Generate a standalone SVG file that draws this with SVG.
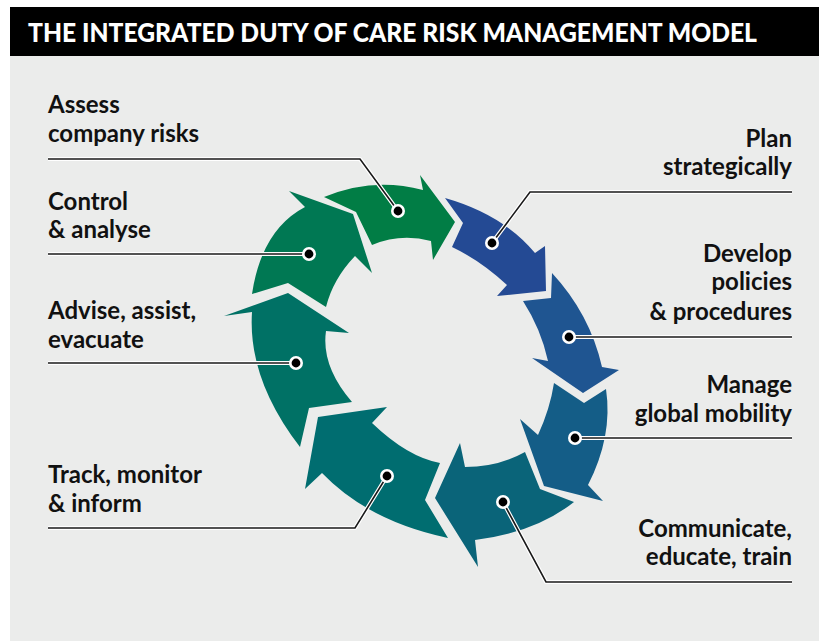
<svg xmlns="http://www.w3.org/2000/svg" width="819" height="641" viewBox="0 0 819 641">
<style>
.lbl{font-family:Lato,"Noto Sans","Liberation Sans",sans-serif;font-weight:700;font-size:24px;fill:#111}
.r{text-anchor:end}
.halo{fill:none;stroke:#fff;stroke-width:4;stroke-linejoin:round}
.ld{fill:none;stroke:#1a1a1a;stroke-width:1.6;stroke-linejoin:miter}
.dot{fill:#000;stroke:#fff;stroke-width:2.6}
</style>
<rect x="0" y="0" width="819" height="641" fill="#fff"/>
<rect x="10" y="7" width="809" height="634" fill="#ebeceb"/>
<rect x="10" y="7" width="809" height="49" fill="#000"/>
<text x="28" y="42" textLength="729" lengthAdjust="spacingAndGlyphs" style="font-family:Lato,'Liberation Sans',sans-serif;font-weight:900;font-size:26px;fill:#fff">THE INTEGRATED DUTY OF CARE RISK MANAGEMENT MODEL</text>

<g id="arrow-assess"><path fill="#017d45" d="M324,197 L356,212 L372,245 Q400.5,233 431,241 L433,260 L455,222 L420,175 L423,190 Q373,176.5 324,197 Z"/></g>
<g id="arrow-plan"><path fill="#244a94" d="M445,198 L463,223 L452,247 Q480.5,260.5 507,285 L497,296 L546,291 L545,246 L535,253 Q503,214.5 445,198 Z"/></g>
<g id="arrow-develop"><path fill="#1f5591" d="M552,273 L551,298 L523,301 Q541,329 548,361 L532,358 L583,393 L619,370 L602,367 Q590,314 552,273 Z"/></g>
<g id="arrow-manage"><path fill="#145d87" d="M606,389 L584,403 L554,383 Q550,409 538,435 L520,419 L544,486 L603,501 L588,485 Q613,436 606,389 Z"/></g>
<g id="arrow-communicate"><path fill="#0a6479" d="M574,502 L540,489 L525,452 Q498,467 465,467 L460,443 L435,498 L478,567 L475,540 Q535.5,532.5 574,502 Z"/></g>
<g id="arrow-track"><path fill="#006d70" d="M448,538 L425,500 L440,463 Q407.5,457 372,423 L387,407 L318,417 L305,489 L322,473 Q368,521 448,538 Z"/></g>
<g id="arrow-advise"><path fill="#007165" d="M300,447 L309,408 L352,402 Q321,366 326,331 L349,333 L288,293 L224,316 L252,312 Q247.6,379 300,447 Z"/></g>
<g id="arrow-control"><path fill="#007853" d="M252,294 L288,283 L326,307 Q333,279 355,256 L372,273 L353,214 L289,191 L305,207 Q261.7,229.7 252,294 Z"/></g>

<g id="connectors">
<path class="halo" d="M48,159 H360 L398,211"/><path class="ld" d="M48,159 H360 L398,211"/>
<path class="halo" d="M48,254 H309"/><path class="ld" d="M48,254 H309"/>
<path class="halo" d="M48,363 H296"/><path class="ld" d="M48,363 H296"/>
<path class="halo" d="M48,528 H355 L387,476"/><path class="ld" d="M48,528 H355 L387,476"/>
<path class="halo" d="M792,192 H530 L492,243"/><path class="ld" d="M792,192 H530 L492,243"/>
<path class="halo" d="M792,337 H569"/><path class="ld" d="M792,337 H569"/>
<path class="halo" d="M792,438 H575"/><path class="ld" d="M792,438 H575"/>
<path class="halo" d="M792,582 H546 L503,502"/><path class="ld" d="M792,582 H546 L503,502"/>
<circle class="dot" cx="398" cy="211" r="5.7"/>
<circle class="dot" cx="309" cy="254" r="5.7"/>
<circle class="dot" cx="296" cy="363" r="5.7"/>
<circle class="dot" cx="387" cy="476" r="5.7"/>
<circle class="dot" cx="492" cy="243" r="5.7"/>
<circle class="dot" cx="569" cy="337" r="5.7"/>
<circle class="dot" cx="575" cy="438" r="5.7"/>
<circle class="dot" cx="503" cy="502" r="5.7"/>
</g>

<g id="label-assess"><text class="lbl" x="48" y="113">Assess</text><text class="lbl" x="48" y="142">company risks</text></g>
<g id="label-control"><text class="lbl" x="48" y="210">Control</text><text class="lbl" x="48" y="238">&amp; analyse</text></g>
<g id="label-advise"><text class="lbl" x="48" y="319">Advise, assist,</text><text class="lbl" x="48" y="348">evacuate</text></g>
<g id="label-track"><text class="lbl" x="48" y="483">Track, monitor</text><text class="lbl" x="48" y="512">&amp; inform</text></g>
<g id="label-plan"><text class="lbl r" x="792" y="147">Plan</text><text class="lbl r" x="792" y="175">strategically</text></g>
<g id="label-develop"><text class="lbl r" x="792" y="262">Develop</text><text class="lbl r" x="792" y="290">policies</text><text class="lbl r" x="792" y="320">&amp; procedures</text></g>
<g id="label-manage"><text class="lbl r" x="792" y="393">Manage</text><text class="lbl r" x="792" y="422">global mobility</text></g>
<g id="label-communicate"><text class="lbl r" x="792" y="537">Communicate,</text><text class="lbl r" x="792" y="565">educate, train</text></g>
</svg>
